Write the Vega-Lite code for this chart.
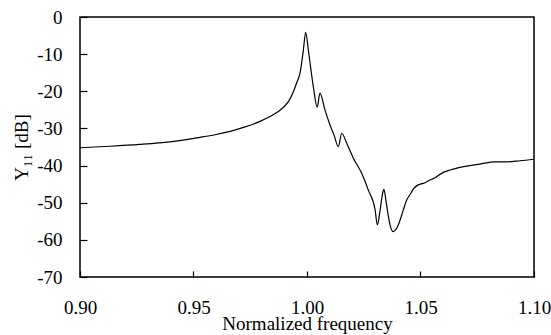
{
  "$schema": "https://vega.github.io/schema/vega-lite/v6.json",
  "width": 454,
  "height": 260,
  "autosize": {"type": "none"},
  "padding": {"left": 80, "top": 17, "right": 17, "bottom": 58},
  "background": "white",
  "config": {
    "font": "Liberation Serif",
    "view": {"stroke": "black", "strokeWidth": 1.5},
    "axis": {
      "domain": false,
      "grid": false,
      "ticks": true,
      "tickColor": "black",
      "tickWidth": 1.2,
      "labelFont": "Liberation Serif",
      "labelFontSize": 19,
      "labelColor": "black",
      "titleFont": "Liberation Serif",
      "titleFontSize": 19,
      "titleFontWeight": "normal",
      "titleColor": "black"
    }
  },
  "data": {
    "values": [
      {"f": 0.9000, "y": -35.2}, {"f": 0.9132, "y": -34.8}, {"f": 0.9264, "y": -34.3},
      {"f": 0.9396, "y": -33.6}, {"f": 0.9529, "y": -32.4}, {"f": 0.9595, "y": -31.7},
      {"f": 0.9661, "y": -30.8}, {"f": 0.9727, "y": -29.6}, {"f": 0.9793, "y": -28.1},
      {"f": 0.9837, "y": -26.8}, {"f": 0.9872, "y": -25.5}, {"f": 0.9896, "y": -24.3},
      {"f": 0.9921, "y": -22.5}, {"f": 0.9940, "y": -20.1}, {"f": 0.9956, "y": -17.5},
      {"f": 0.9969, "y": -15.2}, {"f": 0.9984, "y": -8.9}, {"f": 0.9994, "y": -4.1},
      {"f": 1.0006, "y": -8.9}, {"f": 1.0018, "y": -14.5}, {"f": 1.0028, "y": -18.8},
      {"f": 1.0045, "y": -24.3}, {"f": 1.0057, "y": -20.5}, {"f": 1.0079, "y": -25.0},
      {"f": 1.0101, "y": -29.0}, {"f": 1.0119, "y": -31.8}, {"f": 1.0138, "y": -34.9},
      {"f": 1.0153, "y": -31.3}, {"f": 1.0175, "y": -34.0}, {"f": 1.0204, "y": -38.0},
      {"f": 1.0241, "y": -42.1}, {"f": 1.0270, "y": -46.6}, {"f": 1.0300, "y": -51.9},
      {"f": 1.0310, "y": -56.0}, {"f": 1.0322, "y": -52.0}, {"f": 1.0333, "y": -47.5},
      {"f": 1.0339, "y": -46.4}, {"f": 1.0348, "y": -49.5}, {"f": 1.0358, "y": -53.5},
      {"f": 1.0368, "y": -56.5}, {"f": 1.0380, "y": -57.8}, {"f": 1.0392, "y": -57.2},
      {"f": 1.0402, "y": -56.0}, {"f": 1.0424, "y": -52.0}, {"f": 1.0439, "y": -49.3},
      {"f": 1.0454, "y": -47.8}, {"f": 1.0470, "y": -46.2}, {"f": 1.0490, "y": -45.2},
      {"f": 1.0512, "y": -44.8}, {"f": 1.0542, "y": -43.9}, {"f": 1.0564, "y": -43.3},
      {"f": 1.0593, "y": -42.1}, {"f": 1.0630, "y": -41.2}, {"f": 1.0689, "y": -40.3},
      {"f": 1.0762, "y": -39.6}, {"f": 1.0828, "y": -39.0}, {"f": 1.0881, "y": -39.0},
      {"f": 1.0938, "y": -38.7}, {"f": 1.1000, "y": -38.3}
    ]
  },
  "mark": {"type": "line", "color": "black", "strokeWidth": 1.2, "interpolate": "monotone", "clip": true},
  "encoding": {
    "x": {
      "field": "f",
      "type": "quantitative",
      "scale": {"domain": [0.9, 1.1], "nice": false, "zero": false},
      "axis": {
        "title": "Normalized frequency",
        "values": [0.9, 0.95, 1.0, 1.05, 1.1],
        "format": ".2f",
        "offset": -6,
        "tickSize": 6,
        "labelPadding": 21,
        "titlePadding": -3,
        "labelFlush": false
      }
    },
    "y": {
      "field": "y",
      "type": "quantitative",
      "scale": {"domain": [-70, 0], "nice": false, "zero": false},
      "axis": {
        "title": "Y₁₁ [dB]",
        "values": [0, -10, -20, -30, -40, -50, -60, -70],
        "labelExpr": "'' + datum.value",
        "offset": -7,
        "tickSize": 7,
        "labelPadding": 18,
        "titlePadding": 5,
        "labelFlush": false
      }
    }
  }
}
